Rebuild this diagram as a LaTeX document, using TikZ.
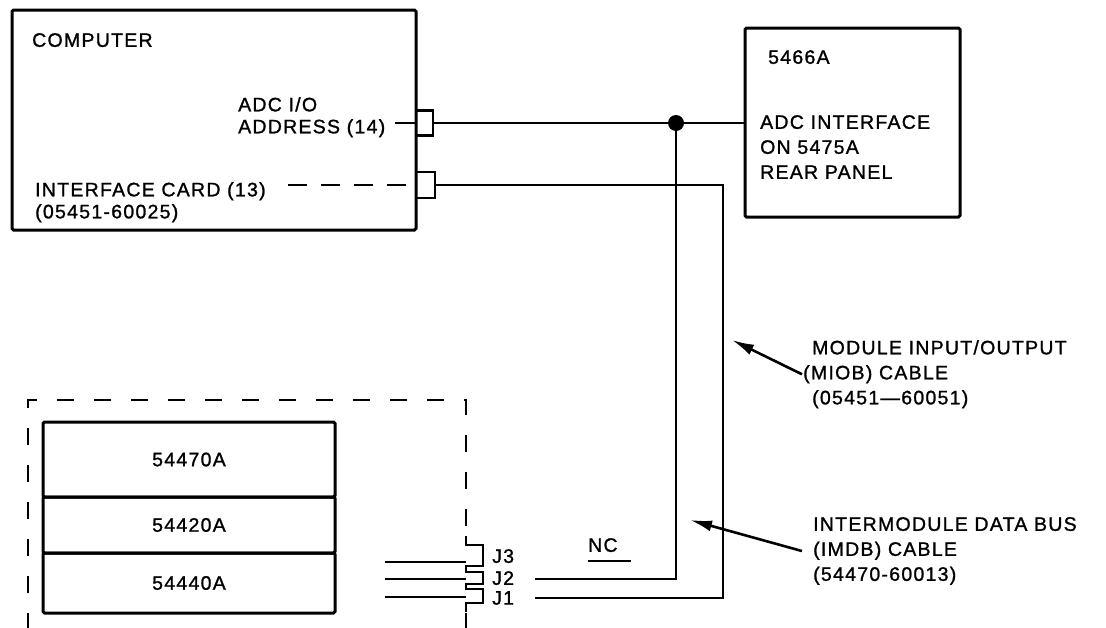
\documentclass[tikz,border=0pt]{standalone}
\usepackage{fontspec}
\setmainfont[LetterSpace=6.5, FakeBold=1.2]{Liberation Sans}
\usetikzlibrary{arrows.meta, positioning}

\begin{document}
\begin{tikzpicture}[x=1pt, y=-1pt,
    >={Latex[length=22pt, width=11pt]},
    txt/.style={font=\fontsize{19.5}{25}\selectfont},
    lbl/.style={txt, inner sep=0pt, anchor=north west, align=left},
    tight/.style={font=\fontsize{19.5}{22}\selectfont},
    box/.style={draw, line width=3pt, rounded corners=1.5pt, inner sep=0pt, outer sep=0pt},
    plug/.style={draw, line width=2.4pt, inner sep=0pt, outer sep=0pt, minimum width=17pt, minimum height=25pt},
    wire/.style={line width=2.2pt},
    encl/.style={line width=2.6pt, dash pattern=on 17pt off 20pt},
    pointer/.style={line width=2.6pt, ->},
    tapdot/.style={circle, fill, inner sep=0pt, minimum size=16pt}]
    \useasboundingbox (0,0) rectangle (1106,627);

    % Computer
    \node[box, anchor=north west, minimum width=404pt, minimum height=220pt] (computer) at (12,10) {};
    \node[lbl] (comptext) at (32,33) {COMPUTER};
    \node[lbl, tight] (adrtext) at (238,97) {ADC I/O\\ADDRESS (14)};
    \node[lbl, tight] (cardtext) at (35,182) {INTERFACE CARD (13)\\(05451-60025)};
    \node[plug, anchor=west] (plugA) at (416,123) {};
    \node[plug, anchor=west, minimum width=19pt, minimum height=26pt] (plugB) at (416,185) {};
    \coordinate (adrtail) at (395,123);
    \coordinate (cardtail) at (288,185);
    \draw[wire] (adrtail) -- (plugA.west);
    \draw[wire, dash pattern=on 19pt off 14pt] (cardtail) -- (plugB.west);

    % 5466A
    \node[box, anchor=north west, minimum width=215pt, minimum height=189pt] (adc) at (745,28) {};
    \node[lbl] (adcname) at (768,50) {5466A};
    \node[lbl] (adctext) at (760,115) {ADC INTERFACE\\ON 5475A\\REAR PANEL};

    % MIOB cable
    \node[tapdot] (tap) at (676,123) {};
    \draw[wire] (plugA.east) -- (plugA.east -| adc.west);
    \coordinate (j2tail) at (535,579);
    \draw[wire, line width=2.6pt] (tap) |- (j2tail);

    % IMDB cable
    \coordinate (imdbbend) at (723,598);
    \coordinate (j1tail) at (535,598);
    \draw[wire, line width=2.6pt] (plugB.east) -| (imdbbend) -- (j1tail);
    \node[lbl] (nc) at (588,538) {NC};
    \draw[wire] ([yshift=-9pt]nc.south west) -- ++(43,0);

    % Mainframe with modules
    \draw[encl] (466,630) -- (466,612);
    \draw[encl] (28,630) -- (28,400) -- (466,400) -- (466,538);
    \draw[wire, line width=2.4pt] (466,536) -- (466,545) -- (483,545) -- (483,566) -- (466,566)
        -- (466,572) -- (483,572) -- (483,584) -- (466,584)
        -- (466,589) -- (483,589) -- (483,603) -- (466,603) -- (466,612);
    \foreach \j/\y/\t in {3/562/549, 2/579/571, 1/597/591} {
        \coordinate (j\j) at (466,\y);
        \coordinate (j\j in) at (385,\y);
        \draw[wire] (j\j in) -- (j\j);
        \node[lbl] (j\j lbl) at (492,\t) {J\j};
    }
    \node[box, txt, anchor=north west, minimum width=292pt, minimum height=75pt] (m70) at (43,422) {54470A};
    \node[box, txt, anchor=north west, minimum width=292pt, minimum height=56pt] (m20) at (m70.south west) {54420A};
    \node[box, txt, anchor=north west, minimum width=292pt, minimum height=60pt] (m40) at (m20.south west) {54440A};

    % Callouts
    \node[lbl] (miob) at (812,340) {MODULE INPUT/OUTPUT\\\hspace*{-9pt}(MIOB) CABLE\\(05451—60051)};
    \node[lbl] (imdb) at (813,517) {INTERMODULE DATA BUS\\(IMDB) CABLE\\(54470-60013)};
    \coordinate (miobtip) at (732,340);
    \coordinate (imdbtip) at (690,520);
    \draw[pointer] ([xshift=-10pt]miob.west) -- (miobtip);
    \draw[pointer] ([xshift=-11pt]imdb.west) -- (imdbtip);
\end{tikzpicture}
\end{document}
